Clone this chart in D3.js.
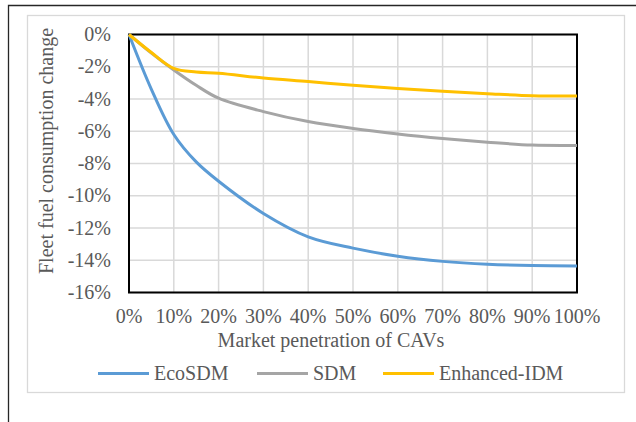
<!DOCTYPE html>
<html>
<head>
<meta charset="utf-8">
<script src="https://cdn.jsdelivr.net/npm/d3@7"></script>
<style>
  body { margin: 0; background: #fff; }
  svg text { font-family: "Liberation Serif", "Times New Roman", Times, "DejaVu Serif", serif; }
</style>
</head>
<body>
<svg id="chart" width="636" height="422"></svg>
<script>
'use strict';

// market penetration (%) where values were read
var penetration = [0, 5, 10, 15, 20, 30, 40, 50, 60, 70, 80, 90, 100];
var ecoSDM      = [0, -3.4, -6.2, -7.9, -9.1, -11.1, -12.55, -13.25, -13.75, -14.07, -14.25, -14.33, -14.35];
var sdm         = [0, -1.15, -2.2, -3.15, -3.95, -4.78, -5.4, -5.83, -6.17, -6.45, -6.68, -6.86, -6.88];
var enhancedIDM = [0, -1.12, -2.1, -2.33, -2.4, -2.7, -2.92, -3.15, -3.35, -3.52, -3.67, -3.8, -3.82];

var seriesNames  = ['EcoSDM', 'SDM', 'Enhanced-IDM'];
var seriesColors = ['#5B9BD5', '#A5A5A5', '#FFC000'];
var xTicks = [0, 10, 20, 30, 40, 50, 60, 70, 80, 90, 100];
var yTicks = [0, -2, -4, -6, -8, -10, -12, -14, -16];

var fs = 20;
var textColor = '#595959';
var plotL = 129, plotR = 577, plotT = 34.5, plotB = 292.5;

var svg = d3.select('#chart');

var x = d3.scaleLinear().domain([0, 100]).range([plotL, plotR]);
var y = d3.scaleLinear().domain([0, -16]).range([plotT, plotB]);

function label(sel) {
  return sel.attr('font-size', fs)
    .attr('fill', textColor);
}

// outer frame (cut off at right and bottom like the picture)
svg.append('path')
  .attr('d', 'M8.5,422 L8.5,5.5 L636,5.5')
  .attr('fill', 'none')
  .attr('stroke', '#262626')
  .attr('stroke-width', 1.3);

// chart area border
svg.append('rect')
  .attr('x', 27.5).attr('y', 15.5)
  .attr('width', 597).attr('height', 377)
  .attr('fill', 'none')
  .attr('stroke', '#D9D9D9')
  .attr('stroke-width', 1.3);

// gridlines
svg.append('g')
  .selectAll('line')
  .data(xTicks)
  .enter().append('line')
    .attr('x1', d => x(d)).attr('x2', d => x(d))
    .attr('y1', plotT).attr('y2', plotB)
    .attr('stroke', '#D9D9D9').attr('stroke-width', 1.5);

svg.append('g')
  .selectAll('line')
  .data(yTicks)
  .enter().append('line')
    .attr('x1', plotL).attr('x2', plotR)
    .attr('y1', d => y(d)).attr('y2', d => y(d))
    .attr('stroke', '#D9D9D9').attr('stroke-width', 1.5);

// plot border
svg.append('rect')
  .attr('x', plotL).attr('y', plotT)
  .attr('width', plotR - plotL).attr('height', plotB - plotT)
  .attr('fill', 'none')
  .attr('stroke', '#000')
  .attr('stroke-width', 2);

// tick labels
svg.append('g')
  .selectAll('text')
  .data(yTicks)
  .enter().append('text')
    .attr('x', 111)
    .attr('y', d => y(d) + 6.5)
    .attr('text-anchor', 'end')
    .call(label)
    .text(d => d + '%');

svg.append('g')
  .selectAll('text')
  .data(xTicks)
  .enter().append('text')
    .attr('x', d => x(d))
    .attr('y', 322.5)
    .attr('text-anchor', 'middle')
    .call(label)
    .text(d => d + '%');

// axis titles
svg.append('text')
  .attr('x', 331).attr('y', 347)
  .attr('text-anchor', 'middle')
  .call(label)
  .text('Market penetration of CAVs');

svg.append('text')
  .attr('transform', 'translate(53,151) rotate(-90)')
  .attr('text-anchor', 'middle')
  .call(label)
  .text('Fleet fuel consumption change');

// lines
var allSeries = [ecoSDM, sdm, enhancedIDM];
var line = d3.line()
  .x((d, i) => x(penetration[i]))
  .y(d => y(d))
  .curve(d3.curveCatmullRom.alpha(0.5));

svg.append('g')
  .selectAll('path')
  .data(allSeries)
  .enter().append('path')
    .attr('d', line)
    .attr('fill', 'none')
    .attr('stroke', (d, i) => seriesColors[i])
    .attr('stroke-width', 3)
    .attr('stroke-linejoin', 'round');

// legend
var legendX = [98, 257, 383];
var leg = svg.append('g')
  .selectAll('g')
  .data(seriesNames)
  .enter().append('g')
    .attr('transform', (d, i) => 'translate(' + legendX[i] + ',373.5)');

leg.append('line')
  .attr('x1', 0).attr('x2', 51)
  .attr('stroke', (d, i) => seriesColors[i])
  .attr('stroke-width', 3);

leg.append('text')
  .attr('x', 56).attr('y', 6.8)
  .call(label)
  .text(d => d);
</script>
</body>
</html>
